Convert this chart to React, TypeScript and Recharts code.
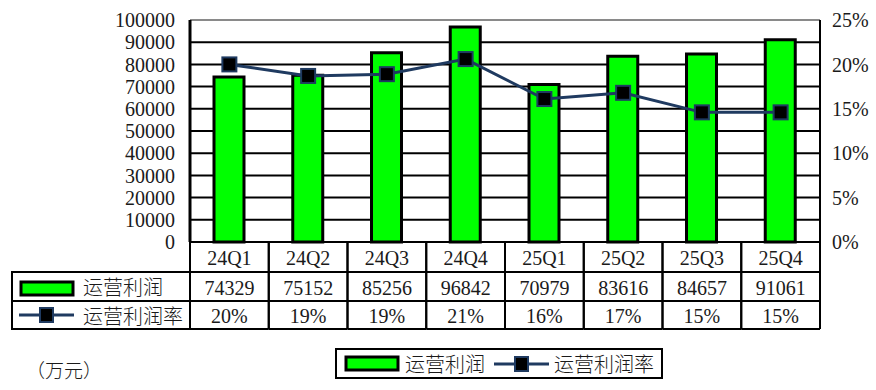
import React from 'react';
import { ComposedChart, Bar, Line, XAxis, YAxis, CartesianGrid, Legend, ReferenceLine } from 'recharts';

const categories = ['24Q1', '24Q2', '24Q3', '24Q4', '25Q1', '25Q2', '25Q3', '25Q4'];
const profit = [74329, 75152, 85256, 96842, 70979, 83616, 84657, 91061];
const rate = [20.0, 18.7, 18.9, 20.6, 16.1, 16.8, 14.6, 14.6];
const rateLabels = ['20%', '19%', '19%', '21%', '16%', '17%', '15%', '15%'];
const leftTicks = [0, 10000, 20000, 30000, 40000, 50000, 60000, 70000, 80000, 90000, 100000];
const rightTicks = [0, 5, 10, 15, 20, 25];
const profitName = '运营利润';
const rateName = '运营利润率';
const unitLabel = '（万元）';

const data = categories.map((c, i) => ({ name: c, profit: profit[i], rate: rate[i] }));

const W = 876;
const H = 390;
const PLOT_LEFT = 190;
const PLOT_RIGHT = 820;
const BAND = (PLOT_RIGHT - PLOT_LEFT) / categories.length;
const ROW = [30, 29, 28];
const HEADER_LEFT = 12;
const GREEN = '#00FF00';
const NAVY = '#1F3A60';
const FONT = '"Liberation Serif", "Noto Sans CJK SC", serif';
const CJK = '"Noto Sans CJK SC", sans-serif';
const CJK_WEIGHT = 300;
const TXT = '#1a1a1a';

const BarIcon = ({ x, y }: { x: number; y: number }) => (
  <rect x={x} y={y} width={52} height={13} fill={GREEN} stroke="#000" strokeWidth={3} />
);
const LineIcon = ({ x, y }: { x: number; y: number }) => (
  <g>
    <line x1={x} y1={y} x2={x + 55} y2={y} stroke={NAVY} strokeWidth={3} />
    <rect x={x + 21} y={y - 7} width={13} height={14} fill="#000" stroke={NAVY} strokeWidth={2} />
  </g>
);

const TableTick = (props: any) => {
  const { x, y, index, payload } = props;
  const y0 = y;
  const xl = x - BAND / 2;
  const xr = x + BAND / 2;
  const r1 = y0 + ROW[0];
  const r2 = r1 + ROW[1];
  const r3 = r2 + ROW[2];
  const lineProps = { stroke: '#000', strokeWidth: 2 };
  return (
    <g>
      <line x1={xl} y1={y0} x2={xl} y2={r3} {...lineProps} />
      <line x1={xr} y1={y0} x2={xr} y2={r3} {...lineProps} />
      <line x1={xl} y1={r1} x2={xr} y2={r1} {...lineProps} />
      <line x1={xl} y1={r2} x2={xr} y2={r2} {...lineProps} />
      <line x1={xl} y1={r3} x2={xr} y2={r3} {...lineProps} />
      <text x={x} y={y0 + ROW[0] / 2 + 1} textAnchor="middle" dominantBaseline="central" fontFamily={FONT} fontSize={20} fill={TXT}>
        {payload.value}
      </text>
      <text x={x} y={r1 + ROW[1] / 2 + 1} textAnchor="middle" dominantBaseline="central" fontFamily={FONT} fontSize={20} fill={TXT}>
        {profit[index]}
      </text>
      <text x={x} y={r2 + ROW[2] / 2 + 1} textAnchor="middle" dominantBaseline="central" fontFamily={FONT} fontSize={20} fill={TXT}>
        {rateLabels[index]}
      </text>
      {index === 0 && (
        <g>
          <line x1={HEADER_LEFT} y1={r1} x2={xl} y2={r1} {...lineProps} />
          <line x1={HEADER_LEFT} y1={r2} x2={xl} y2={r2} {...lineProps} />
          <line x1={HEADER_LEFT} y1={r3} x2={xl} y2={r3} {...lineProps} />
          <line x1={HEADER_LEFT} y1={r1 - 1} x2={HEADER_LEFT} y2={r3 + 1} {...lineProps} />
          <BarIcon x={HEADER_LEFT + 9} y={r1 + 10} />
          <text x={HEADER_LEFT + 71} y={r1 + ROW[1] / 2} dominantBaseline="central" fontFamily={CJK} fontWeight={CJK_WEIGHT} fontSize={20} fill={TXT}>
            {profitName}
          </text>
          <LineIcon x={HEADER_LEFT + 7} y={r2 + ROW[2] / 2} />
          <text x={HEADER_LEFT + 71} y={r2 + ROW[2] / 2} dominantBaseline="central" fontFamily={CJK} fontWeight={CJK_WEIGHT} fontSize={20} fill={TXT}>
            {rateName}
          </text>
        </g>
      )}
    </g>
  );
};

const SquareDot = (props: any) => {
  const { cx, cy } = props;
  if (cx == null || cy == null) return null;
  return <rect x={cx - 7} y={cy - 7} width={14} height={14} fill="#000" stroke={NAVY} strokeWidth={2} />;
};

const LegendBox = (props: any) => {
  const payload = props.payload || [];
  return (
    <div
      style={{
        width: 324,
        height: 27,
        border: '2px solid #000',
        background: '#fff',
        display: 'flex',
        alignItems: 'center',
        boxSizing: 'content-box',
      }}
    >
      {payload.map((p: any, i: number) => (
        <div key={i} style={{ display: 'flex', alignItems: 'center', marginLeft: i === 0 ? 7 : 8 }}>
          <svg width={57} height={20}>
            {p.type === 'rect' ? <BarIcon x={2} y={3} /> : <LineIcon x={1} y={10} />}
          </svg>
          <span style={{ fontFamily: CJK, fontWeight: CJK_WEIGHT, fontSize: 20, color: TXT, marginLeft: 4, lineHeight: '27px' }}>{p.value}</span>
        </div>
      ))}
    </div>
  );
};

export default function App() {
  return (
    <div style={{ position: 'absolute', left: 0, top: 0, width: W, height: H, background: '#fff' }}>
      <ComposedChart width={W} height={H} data={data} margin={{ top: 20, right: 0, bottom: 61, left: 0 }}>
        <CartesianGrid yAxisId="left" vertical={false} stroke="#000" strokeWidth={2} />
        <XAxis
          dataKey="name"
          axisLine={{ stroke: '#000', strokeWidth: 2 }}
          tickLine={false}
          tickSize={0}
          tickMargin={0}
          interval={0}
          height={87}
          tick={<TableTick />}
        />
        <YAxis
          yAxisId="left"
          width={PLOT_LEFT}
          domain={[0, 100000]}
          ticks={leftTicks}
          interval={0}
          axisLine={{ stroke: '#000', strokeWidth: 3 }}
          tickLine={false}
          tickSize={0}
          tickMargin={15}
          tick={{ fontFamily: FONT, fontSize: 20, fill: TXT }}
        />
        <YAxis
          yAxisId="right"
          orientation="right"
          width={W - PLOT_RIGHT}
          domain={[0, 25]}
          ticks={rightTicks}
          interval={0}
          tickFormatter={(v: number) => `${v}%`}
          axisLine={{ stroke: '#000', strokeWidth: 2 }}
          tickLine={false}
          tickSize={0}
          tickMargin={12}
          tick={{ fontFamily: FONT, fontSize: 20, fill: TXT }}
        />
        <ReferenceLine yAxisId="left" y={100000} stroke="#8a8a8a" strokeWidth={2} />
        <Bar
          yAxisId="left"
          dataKey="profit"
          name={profitName}
          legendType="rect"
          fill={GREEN}
          stroke="#000"
          strokeWidth={3}
          barSize={30}
          isAnimationActive={false}
        />
        <Line
          yAxisId="right"
          dataKey="rate"
          name={rateName}
          legendType="line"
          stroke={NAVY}
          strokeWidth={3}
          dot={<SquareDot />}
          activeDot={false}
          isAnimationActive={false}
        />
        <Legend
          verticalAlign="middle"
          align="center"
          content={<LegendBox />}
          wrapperStyle={{ position: 'absolute', left: 335, top: 348, width: 328, height: 31 }}
        />
      </ComposedChart>
      <div
        style={{
          position: 'absolute',
          left: 26,
          top: 357,
          fontFamily: CJK,
          fontWeight: CJK_WEIGHT,
          fontSize: 19,
          color: TXT,
          lineHeight: '26px',
        }}
      >
        {unitLabel}
      </div>
    </div>
  );
}
